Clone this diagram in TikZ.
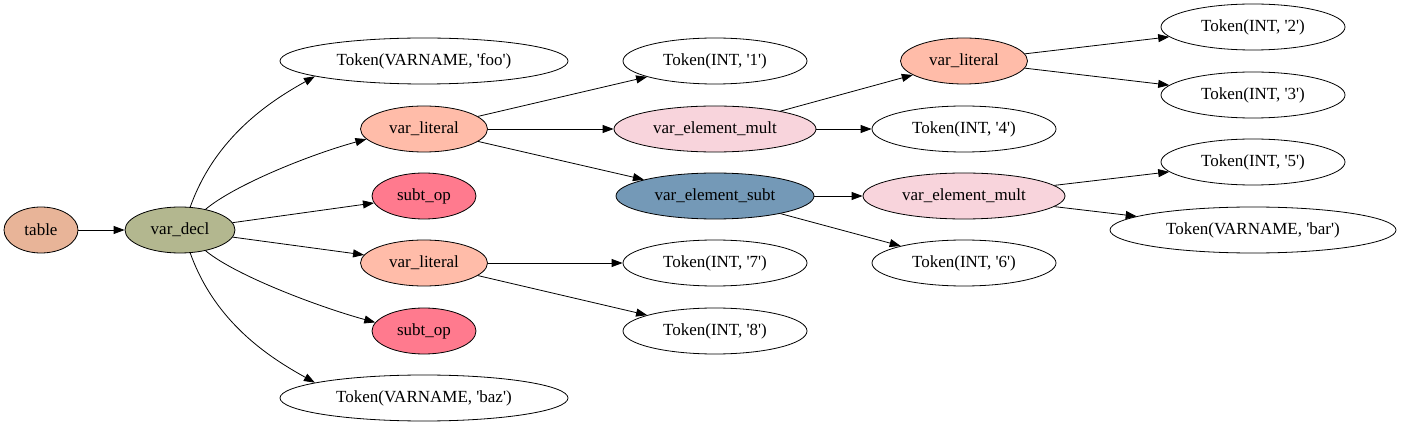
\documentclass[tikz,border=0pt]{standalone}
\usepackage{fontspec}
\setmainfont{Liberation Serif}
\usepackage{tikz}
\usetikzlibrary{arrows.meta}
\usetikzlibrary{shapes.geometric}

\definecolor{tablecol}{HTML}{E8B498}
\definecolor{declcol}{HTML}{B3B78F}
\definecolor{litcol}{HTML}{FFBCA9}
\definecolor{subtcol}{HTML}{FF7A8E}
\definecolor{multcol}{HTML}{F8D4DC}
\definecolor{elsubcol}{HTML}{7499B7}

\newcommand{\sq}{\textquotesingle}

\tikzset{
  ell/.style={draw,ellipse,line width=0.8pt,inner sep=0pt,minimum height=46pt,font=\fontsize{17}{19}\selectfont},
  tabnode/.style={ell,fill=tablecol,minimum width=74pt},
  declnode/.style={ell,fill=declcol,minimum width=110pt},
  litnode/.style={ell,fill=litcol,minimum width=127pt},
  subtnode/.style={ell,fill=subtcol,minimum width=104pt},
  multnode/.style={ell,fill=multcol,minimum width=202pt},
  elsubnode/.style={ell,fill=elsubcol,minimum width=198pt},
  namenode/.style={ell,minimum width=288pt},
  intnode/.style={ell,minimum width=184pt}
}

\begin{document}
\begin{tikzpicture}[x=1pt,y=1pt,>={Triangle[length=11pt,width=8pt]}]

  \useasboundingbox (0,0) rectangle (1403,426);

  \node [tabnode] (table) at (41,196) {table};
  \node [declnode] (decl) at (180,196) {var\_decl};

  \node [namenode] (foo) at (424,365) {Token(VARNAME, \sq foo\sq)};
  \node [litnode] (lit_1) at (424,297) {var\_literal};
  \node [subtnode] (subt_1) at (424,230) {subt\_op};
  \node [litnode] (lit_2) at (424,163) {var\_literal};
  \node [subtnode] (subt_2) at (424,95) {subt\_op};
  \node [namenode] (baz) at (424,28) {Token(VARNAME, \sq baz\sq)};

  \node [intnode] (int_1) at (715,365) {Token(INT, \sq 1\sq)};
  \node [multnode] (mult_1) at (715,297) {var\_element\_mult};
  \node [elsubnode] (elsub) at (715,230) {var\_element\_subt};
  \node [intnode] (int_7) at (715,163) {Token(INT, \sq 7\sq)};
  \node [intnode] (int_8) at (715,95) {Token(INT, \sq 8\sq)};

  \node [litnode] (lit_3) at (964,365) {var\_literal};
  \node [intnode] (int_4) at (964,297) {Token(INT, \sq 4\sq)};
  \node [multnode] (mult_2) at (964,230) {var\_element\_mult};
  \node [intnode] (int_6) at (964,163) {Token(INT, \sq 6\sq)};

  \node [intnode] (int_2) at (1253,399) {Token(INT, \sq 2\sq)};
  \node [intnode] (int_3) at (1253,331) {Token(INT, \sq 3\sq)};
  \node [intnode] (int_5) at (1253,264) {Token(INT, \sq 5\sq)};
  \node [namenode,minimum width=286pt] (bar) at (1253,196) {Token(VARNAME, \sq bar\sq)};

  \path [draw,line width=0.8pt,->]
    (table) edge (decl)
    (decl) edge (subt_1)
    (decl) edge (lit_2);

  \path [draw,line width=0.8pt,->]
    (decl.66) .. controls +(25,70) and +(-45,-25) .. (foo.188);
  \path [draw,line width=0.8pt,->]
    (decl.39) .. controls +(30,25) and +(-55,-15) .. (lit_1.190);
  \path [draw,line width=0.8pt,->]
    (decl.-39) .. controls +(30,-25) and +(-55,15) .. (subt_2.170);
  \path [draw,line width=0.8pt,->]
    (decl.-66) .. controls +(25,-70) and +(-45,25) .. (baz.172);

  \path [draw,line width=0.8pt,->]
    (lit_1) edge (int_1)
    (lit_1) edge (mult_1)
    (lit_1) edge (elsub)
    (lit_2) edge (int_7)
    (lit_2) edge (int_8);

  \path [draw,line width=0.8pt,->]
    (mult_1) edge (lit_3)
    (mult_1) edge (int_4)
    (elsub) edge (mult_2)
    (elsub) edge (int_6);

  \path [draw,line width=0.8pt,->]
    (lit_3) edge (int_2)
    (lit_3) edge (int_3)
    (mult_2) edge (int_5)
    (mult_2) edge (bar);

\end{tikzpicture}
\end{document}
